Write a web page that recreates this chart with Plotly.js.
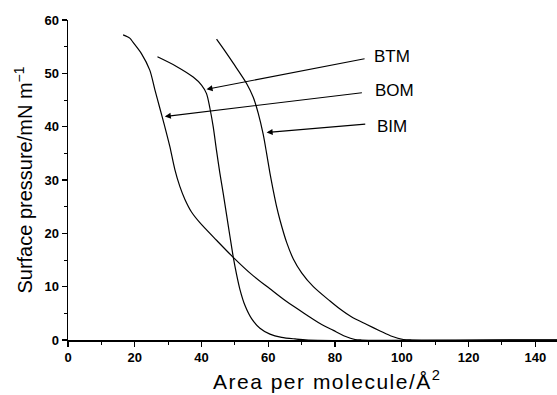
<!DOCTYPE html>
<html>
<head>
<meta charset="utf-8">
<script src="https://cdn.plot.ly/plotly-3.0.1.min.js"></script>
<style>html,body{margin:0;padding:0;background:#fff;}#chart{width:557px;height:395px;}</style>
</head>
<body>
<div id="chart"></div>
<script>
// BOM isotherm (leftmost)
const bomX = [16.5, 18.5, 19.5, 22, 24.5, 26, 27.5, 29, 30.5, 32, 33.5, 35, 37, 39.5, 44.5, 49.5, 55, 60.5, 65.5, 71.5, 75.5, 79.5, 83, 86, 88, 146.5];
const bomY = [57.2, 56.6, 55.8, 53.7, 50.6, 47.0, 43.5, 40.0, 36.3, 32.0, 28.8, 26.4, 24.0, 22.0, 18.7, 15.5, 12.3, 9.6, 7.2, 4.7, 3.1, 1.8, 0.7, 0.1, 0, 0];
// BTM isotherm (middle)
const btmX = [26.8, 32.5, 37.5, 40, 41.5, 42.5, 43.5, 44.5, 45.5, 46.5, 47.5, 48.5, 49.5, 50.5, 51.5, 53, 55, 57.5, 60.5, 64, 68, 72, 146.5];
const btmY = [53.1, 51.3, 49.3, 47.8, 46.2, 43.5, 40.0, 35.5, 31.3, 27.5, 23.5, 19.5, 15.6, 12.3, 9.5, 6.5, 4.0, 2.2, 1.1, 0.5, 0.2, 0, 0];
// BIM isotherm (right)
const bimX = [44.5, 47, 49.5, 53.5, 55.5, 57, 58.5, 59.5, 60.5, 61.5, 62.5, 63.5, 65.5, 67.5, 70, 73.5, 78.5, 81.5, 85, 89.5, 93.5, 97, 100.5, 103, 146.5];
const bimY = [56.4, 54.2, 51.9, 48.1, 45.5, 42.5, 38.5, 35.0, 31.3, 28.0, 25.0, 22.5, 18.3, 15.2, 12.6, 10.0, 7.3, 5.8, 4.3, 2.9, 1.7, 0.7, 0.1, 0, 0];
const labels = ["BTM", "BOM", "BIM"];
const labelX = [97, 97.7, 97.2];
const labelY = [53.2, 46.7, 40.0];
const tailX = [89.3, 88.5, 89.5];
const tailY = [52.8, 46.4, 40.5];
const headX = [41.5, 29, 59.5];
const headY = [47.0, 41.9, 38.9];
const xTitle = 'Area per molecule/Å<sup>2</sup>';
const yTitle = 'Surface pressure/mN m<sup>−1</sup>';

const FONT = 'Liberation Sans, Arial, sans-serif';
const line = {color: '#000', width: 1.2, shape: 'spline', smoothing: 0.8};
const traces = [
  {x: bomX, y: bomY, mode: 'lines', line: line, name: 'BOM'},
  {x: btmX, y: btmY, mode: 'lines', line: line, name: 'BTM'},
  {x: bimX, y: bimY, mode: 'lines', line: line, name: 'BIM'}
];

const annotations = [];
for (let i = 0; i < labels.length; i++) {
  annotations.push({
    x: headX[i], y: headY[i], xref: 'x', yref: 'y',
    ax: tailX[i], ay: tailY[i], axref: 'x', ayref: 'y',
    text: '', showarrow: true, arrowhead: 2, arrowsize: 1.1, arrowwidth: 1.1, arrowcolor: '#000',
    standoff: 0, startstandoff: 0
  });
  annotations.push({
    x: labelX[i], y: labelY[i], xref: 'x', yref: 'y', text: labels[i], showarrow: false,
    font: {family: FONT, size: 17, color: '#000'},
    xanchor: 'center', yanchor: 'middle'
  });
}
// x-axis title as a paper annotation so it can sit where the reference has it
annotations.push({
  x: 0.53, y: -0.125, xref: 'paper', yref: 'paper', text: xTitle, showarrow: false,
  font: {family: FONT, size: 21, color: '#000'}, xanchor: 'center', yanchor: 'middle'
});

const layout = {
  width: 557, height: 395,
  margin: {l: 68, r: 0, t: 20, b: 55},
  paper_bgcolor: '#fff', plot_bgcolor: '#fff',
  showlegend: false,
  font: {family: FONT, color: '#000'},
  xaxis: {
    range: [0, 146.5], tickvals: [0, 20, 40, 60, 80, 100, 120, 140],
    ticks: 'outside', ticklen: 5, tickwidth: 1.2, tickcolor: '#000',
    minor: {dtick: 10, tick0: 0, ticks: 'outside', ticklen: 3, tickwidth: 1, tickcolor: '#000', showgrid: false},
    showline: true, linecolor: '#000', linewidth: 1.5, showgrid: false, zeroline: false,
    tickfont: {size: 13, family: FONT, weight: 'bold'}
  },
  yaxis: {
    range: [0, 60], tickvals: [0, 10, 20, 30, 40, 50, 60],
    ticks: 'outside', ticklen: 5, tickwidth: 1.2, tickcolor: '#000',
    minor: {dtick: 5, tick0: 0, ticks: 'outside', ticklen: 3, tickwidth: 1, tickcolor: '#000', showgrid: false},
    showline: true, linecolor: '#000', linewidth: 1.5, showgrid: false, zeroline: false,
    tickfont: {size: 13, family: FONT, weight: 'bold'},
    title: {text: yTitle, font: {size: 20}, standoff: 6}
  },
  annotations: annotations
};

Plotly.newPlot('chart', traces, layout, {displayModeBar: false, staticPlot: true}).then(function () {
  const t = document.querySelectorAll('#chart .annotation-text');
  t.forEach(function (el) {
    if (el.textContent.indexOf('Area') === 0) el.style.letterSpacing = '1.5px';
  });
});
</script>
</body>
</html>
